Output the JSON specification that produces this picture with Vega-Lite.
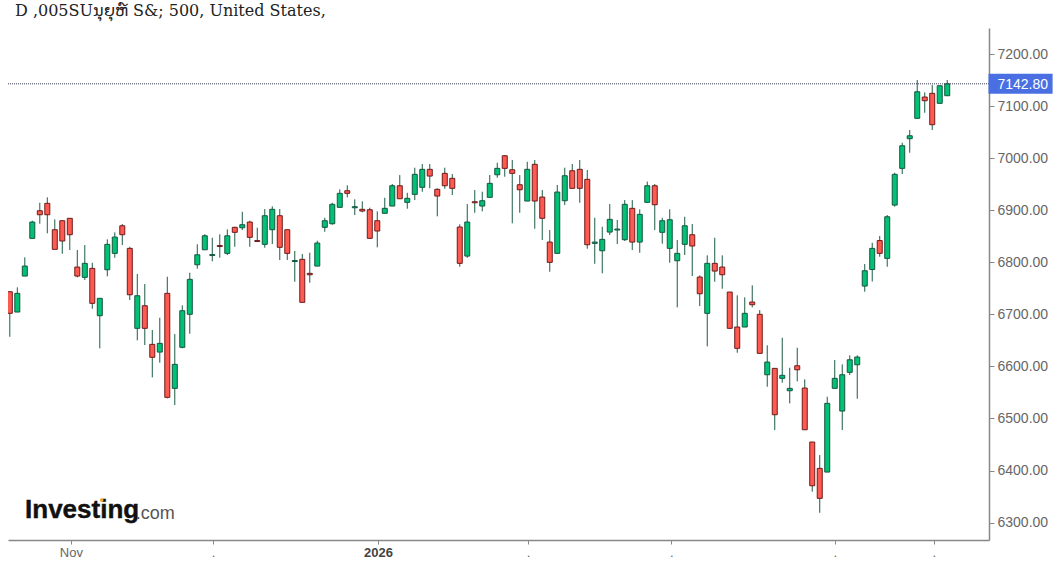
{"$schema":"https://vega.github.io/schema/vega-lite/v6.json","width":981,"height":512,"autosize":"none","padding":{"left":8,"top":28,"right":70,"bottom":28},"background":"white","view":{"stroke":null},"title":{"text":"D ,005SUນຸຍຸຫ໌ S&; 500, United States,","font":"DejaVu Serif","fontSize":16,"fontWeight":"normal","color":"#222222","anchor":"start","frame":"group","dx":7,"offset":9},"datasets":{"candles":[
{"i":0,"o":6743.4,"h":6743.4,"l":6656.9,"c":6701.9},{"i":1,"o":6704.4,"h":6751.8,"l":6704.4,"c":6740.3},{"i":2,"o":6773.5,"h":6809.4,"l":6773.5,"c":6792.7},{"i":3,"o":6845.9,"h":6879.8,"l":6845.9,"c":6877.3},{"i":4,"o":6899,"h":6914.3,"l":6874,"c":6891.3},{"i":5,"o":6913.2,"h":6924.7,"l":6855.6,"c":6891.3},{"i":6,"o":6862.5,"h":6882.4,"l":6824.8,"c":6824.8},{"i":7,"o":6879.8,"h":6879.8,"l":6816.4,"c":6840.8},{"i":8,"o":6884.4,"h":6884.4,"l":6823.5,"c":6852.9},{"i":9,"o":6790.8,"h":6823.5,"l":6771,"c":6773.5},
{"i":10,"o":6771,"h":6833.1,"l":6765.8,"c":6797.9},{"i":11,"o":6788.3,"h":6799.1,"l":6710.7,"c":6721.1},{"i":12,"o":6697.3,"h":6730.7,"l":6634.7,"c":6730.7},{"i":13,"o":6785.6,"h":6844,"l":6772.9,"c":6834.4},{"i":14,"o":6817.1,"h":6857.5,"l":6808.7,"c":6848.4},{"i":15,"o":6870.1,"h":6873.4,"l":6833.1,"c":6852.9},{"i":16,"o":6826.7,"h":6829.8,"l":6727.4,"c":6737.6},{"i":17,"o":6673.1,"h":6777.4,"l":6650,"c":6735.7},{"i":18,"o":6716.5,"h":6758.2,"l":6641,"c":6673.1},{"i":19,"o":6642.3,"h":6669.8,"l":6578.9,"c":6617.4},
{"i":20,"o":6627.5,"h":6693.4,"l":6607,"c":6644.2},{"i":21,"o":6740.3,"h":6772.2,"l":6538.6,"c":6540.5},{"i":22,"o":6557.8,"h":6662.1,"l":6525.7,"c":6603.9},{"i":23,"o":6636.6,"h":6717.2,"l":6634.7,"c":6706.9},{"i":24,"o":6700,"h":6779.9,"l":6662.7,"c":6767.2},{"i":25,"o":6795.2,"h":6834.4,"l":6787.6,"c":6814.4},{"i":26,"o":6824,"h":6853.7,"l":6824,"c":6850.9},{"i":27,"o":6812.9,"h":6847.1,"l":6801.8,"c":6814.8},{"i":28,"o":6832.1,"h":6853.7,"l":6808.7,"c":6830.2},{"i":29,"o":6817.1,"h":6863.2,"l":6813.9,"c":6850.9},
{"i":30,"o":6867.1,"h":6868.2,"l":6829.8,"c":6857.5},{"i":31,"o":6866.3,"h":6897,"l":6861.9,"c":6872.1},{"i":32,"o":6877.3,"h":6879.8,"l":6829.8,"c":6847.9},{"i":33,"o":6841.7,"h":6866.3,"l":6839.8,"c":6839.8},{"i":34,"o":6834.4,"h":6902.2,"l":6827.9,"c":6889.4},{"i":35,"o":6862.5,"h":6907.4,"l":6835,"c":6901.7},{"i":36,"o":6889.4,"h":6902.2,"l":6804.3,"c":6828.7},{"i":37,"o":6862.5,"h":6862.5,"l":6804.3,"c":6817.1},{"i":38,"o":6801.4,"h":6821.6,"l":6762.6,"c":6803.3},{"i":39,"o":6805.6,"h":6815.8,"l":6723,"c":6723},
{"i":40,"o":6778.7,"h":6818.3,"l":6760.7,"c":6776},{"i":41,"o":6792.7,"h":6841.3,"l":6792.7,"c":6836.9},{"i":42,"o":6867.1,"h":6885.5,"l":6858.6,"c":6879.8},{"i":43,"o":6874,"h":6914.3,"l":6872.1,"c":6911.3},{"i":44,"o":6905.5,"h":6940.1,"l":6905.5,"c":6932.4},{"i":45,"o":6937.4,"h":6947.8,"l":6924.7,"c":6932.4},{"i":46,"o":6904.7,"h":6920.9,"l":6890.7,"c":6906.7},{"i":47,"o":6901.7,"h":6917,"l":6895.9,"c":6898.4},{"i":48,"o":6900.9,"h":6904.7,"l":6845.9,"c":6845.9},{"i":49,"o":6879.8,"h":6897.8,"l":6828.7,"c":6860},
{"i":50,"o":6894,"h":6923.9,"l":6894,"c":6903.6},{"i":51,"o":6908,"h":6950.3,"l":6908,"c":6947},{"i":52,"o":6947,"h":6967.5,"l":6922,"c":6922},{"i":53,"o":6915.1,"h":6933.5,"l":6902.8,"c":6922.8},{"i":54,"o":6930.5,"h":6981.6,"l":6919.5,"c":6968.9},{"i":55,"o":6943.9,"h":6988.7,"l":6935.5,"c":6978.5},{"i":56,"o":6978.5,"h":6988.7,"l":6942,"c":6965.6},{"i":57,"o":6940.1,"h":6942,"l":6888.2,"c":6927.2},{"i":58,"o":6970.8,"h":6981.6,"l":6941.2,"c":6947},{"i":59,"o":6961.2,"h":6969.5,"l":6929.1,"c":6942},
{"i":60,"o":6867.7,"h":6872.8,"l":6791.4,"c":6797.9},{"i":61,"o":6811.9,"h":6911.8,"l":6808.7,"c":6877.3},{"i":62,"o":6916.3,"h":6938.7,"l":6895.1,"c":6914.3},{"i":63,"o":6908,"h":6935.5,"l":6897.8,"c":6918.2},{"i":64,"o":6924.7,"h":6967.5,"l":6924.7,"c":6951.6},{"i":65,"o":6968.1,"h":6991.2,"l":6962.4,"c":6980.4},{"i":66,"o":7004.6,"h":7006,"l":6964.3,"c":6980.4},{"i":67,"o":6977.7,"h":6996.4,"l":6874.8,"c":6970.8},{"i":68,"o":6948.9,"h":6967.5,"l":6895.1,"c":6939.3},{"i":69,"o":6917.6,"h":6993.1,"l":6917.6,"c":6978.5},
{"i":70,"o":6988.1,"h":6996.4,"l":6864.4,"c":6917.6},{"i":71,"o":6925.3,"h":6938.7,"l":6842.7,"c":6884.4},{"i":72,"o":6838.8,"h":6861.9,"l":6781.8,"c":6799.8},{"i":73,"o":6817.1,"h":6948.3,"l":6817.1,"c":6934.9},{"i":74,"o":6918.2,"h":6981.6,"l":6909.9,"c":6966.2},{"i":75,"o":6975.8,"h":6988.7,"l":6942,"c":6942},{"i":76,"o":6978.5,"h":6996.4,"l":6914.3,"c":6942},{"i":77,"o":6959.3,"h":6977.1,"l":6826,"c":6833.7},{"i":78,"o":6836.3,"h":6885.5,"l":6797.1,"c":6838.8},{"i":79,"o":6822.1,"h":6868.2,"l":6778.7,"c":6844},
{"i":80,"o":6858,"h":6911.8,"l":6852.3,"c":6882.4},{"i":81,"o":6861.9,"h":6881.1,"l":6835,"c":6863.8},{"i":82,"o":6843.3,"h":6919.5,"l":6840.8,"c":6911.3},{"i":83,"o":6903.6,"h":6919.5,"l":6823.5,"c":6838.8},{"i":84,"o":6838.8,"h":6901.7,"l":6818.3,"c":6892},{"i":85,"o":6915.1,"h":6955,"l":6915.1,"c":6947},{"i":86,"o":6947,"h":6950.3,"l":6861.9,"c":6910.5},{"i":87,"o":6857.5,"h":6885.5,"l":6835.6,"c":6879.8},{"i":88,"o":6826.7,"h":6901.7,"l":6799.1,"c":6881.7},{"i":89,"o":6802.9,"h":6842.7,"l":6713.4,"c":6817.1},
{"i":90,"o":6834.4,"h":6887.4,"l":6813.9,"c":6870.1},{"i":91,"o":6852.9,"h":6873.4,"l":6773.5,"c":6831.2},{"i":92,"o":6771.6,"h":6774.9,"l":6715.9,"c":6739.5},{"i":93,"o":6701.9,"h":6813.3,"l":6638.5,"c":6797.9},{"i":94,"o":6797.9,"h":6847.1,"l":6762.6,"c":6783.1},{"i":95,"o":6790.8,"h":6813.3,"l":6749.1,"c":6776},{"i":96,"o":6742.8,"h":6742.8,"l":6673.1,"c":6673.1},{"i":97,"o":6675.6,"h":6736.5,"l":6626.2,"c":6634.7},{"i":98,"o":6675.6,"h":6732.6,"l":6675.6,"c":6701.9},{"i":99,"o":6723.6,"h":6755.7,"l":6713.4,"c":6718.4},
{"i":100,"o":6700,"h":6708.2,"l":6625,"c":6625},{"i":101,"o":6583.9,"h":6640.4,"l":6560.9,"c":6608.3},{"i":102,"o":6596.2,"h":6596.2,"l":6477.7,"c":6507.1},{"i":103,"o":6577,"h":6655,"l":6568.6,"c":6582.8},{"i":104,"o":6553.2,"h":6597.4,"l":6529,"c":6557.8},{"i":105,"o":6601.2,"h":6635.8,"l":6571.2,"c":6593.5},{"i":106,"o":6558.4,"h":6575.1,"l":6478.3,"c":6478.3},{"i":107,"o":6454.7,"h":6454.7,"l":6359.2,"c":6370.7},{"i":108,"o":6404.1,"h":6429.7,"l":6318.8,"c":6346.5},{"i":109,"o":6397,"h":6541.7,"l":6397,"c":6529},
{"i":110,"o":6557.8,"h":6612.2,"l":6557.8,"c":6577},{"i":111,"o":6514.2,"h":6603.9,"l":6477.7,"c":6583.9},{"i":112,"o":6588.5,"h":6621.2,"l":6583.4,"c":6612.7},{"i":113,"o":6603.1,"h":6621.2,"l":6537.8,"c":6617.9},{"i":114,"o":6754.3,"h":6796.6,"l":6743.4,"c":6783.7},{"i":115,"o":6786,"h":6837.5,"l":6763,"c":6826.7},{"i":116,"o":6841.7,"h":6850.4,"l":6810.6,"c":6817.1},{"i":117,"o":6807.5,"h":6890.7,"l":6791.4,"c":6887.4},{"i":118,"o":6909.9,"h":6972,"l":6906.7,"c":6968.9},{"i":119,"o":6980.4,"h":7029.6,"l":6969.5,"c":7023.8},
{"i":120,"o":7037.3,"h":7054,"l":7010.4,"c":7043},{"i":121,"o":7076.5,"h":7150,"l":7076.5,"c":7127.5},{"i":122,"o":7117.4,"h":7126.4,"l":7087.2,"c":7110.3},{"i":123,"o":7124.5,"h":7140.4,"l":7054,"c":7064.2},{"i":124,"o":7105.3,"h":7139.1,"l":7105.3,"c":7139.1},{"i":125,"o":7119.9,"h":7150,"l":7119.9,"c":7142.8}
],"last":[{"price":7142.8}]},
"layer":[
{"data":{"name":"candles"},"mark":{"type":"rule","color":"#1c5c45","strokeWidth":1,"clip":true},"encoding":{"x":{"field":"i","type":"quantitative","scale":{"domain":[-0.24,130.57],"nice":false,"zero":false,"padding":0},"axis":{"title":null,"grid":false,"values":[8.15,27.1,49.1,69.1,88.2,110,123.2],"labelExpr":"datum.value==8.15?'Nov':datum.value==49.1?'2026':'.'","labelFontWeight":{"condition":{"test":"datum.value==49.1","value":"bold"},"value":"normal"},"labelColor":{"condition":{"test":"datum.value==49.1","value":"#444444"},"value":"#666666"},"domainColor":"#888888","domainWidth":1.5,"tickColor":"#888888","tickSize":4,"labelFont":"Liberation Sans","labelFontSize":13,"labelPadding":2}},"y":{"field":"l","type":"quantitative","scale":{"domain":[6266.5,7250],"nice":false,"zero":false},"axis":{"orient":"right","title":null,"values":[6300,6400,6500,6600,6700,6800,6900,7000,7100,7200],"format":".2f","grid":false,"domainColor":"#888888","domainWidth":1.5,"tickColor":"#888888","tickSize":5,"labelColor":"#666666","labelFont":"Liberation Sans","labelFontSize":14,"labelPadding":3}},"y2":{"field":"h"}}},
{"data":{"name":"candles"},"mark":{"type":"bar","orient":"vertical","size":5,"strokeWidth":1,"clip":true},"encoding":{"x":{"field":"i","type":"quantitative"},"y":{"field":"o","type":"quantitative"},"y2":{"field":"c"},"fill":{"condition":{"test":"datum.c>=datum.o","value":"#00c176"},"value":"#ff5a50"},"stroke":{"condition":{"test":"datum.c>=datum.o","value":"#14563f"},"value":"#6e1b1b"}}},
{"data":{"name":"last"},"mark":{"type":"rule","color":"#3a3f55","strokeDash":[1,1],"strokeWidth":1},"encoding":{"y":{"field":"price","type":"quantitative"}}},
{"data":{"name":"last"},"mark":{"type":"rule","color":"#4a6fe3","strokeWidth":20,"clip":false},"encoding":{"y":{"field":"price","type":"quantitative"},"x":{"datum":130.5},"x2":{"datum":139.05}}},
{"data":{"name":"last"},"mark":{"type":"text","color":"white","font":"Liberation Sans","fontSize":14,"align":"left","baseline":"middle","dy":1},"encoding":{"y":{"field":"price","type":"quantitative"},"x":{"datum":131.7},"text":{"field":"price","type":"quantitative","format":".2f"}}},
{"data":{"values":[{"logo":"Investing"}]},"mark":{"type":"text","font":"Liberation Sans","fontWeight":"bold","fontSize":26,"color":"#111111","align":"left","baseline":"alphabetic","stroke":"#111111","strokeWidth":0.4},"encoding":{"text":{"field":"logo"},"x":{"datum":2.03},"y":{"datum":6309}}},
{"data":{"values":[{"logo":".com"}]},"mark":{"type":"text","font":"Liberation Sans","fontSize":18,"color":"#555555","align":"left","baseline":"alphabetic"},"encoding":{"text":{"field":"logo"},"x":{"datum":16.8},"y":{"datum":6306.7}}},
{"data":{"values":[{"logo":"dot"}]},"mark":{"type":"circle","color":"#f5a623","size":14,"opacity":1},"encoding":{"x":{"datum":12.25},"y":{"datum":6343.2}}}
]}
